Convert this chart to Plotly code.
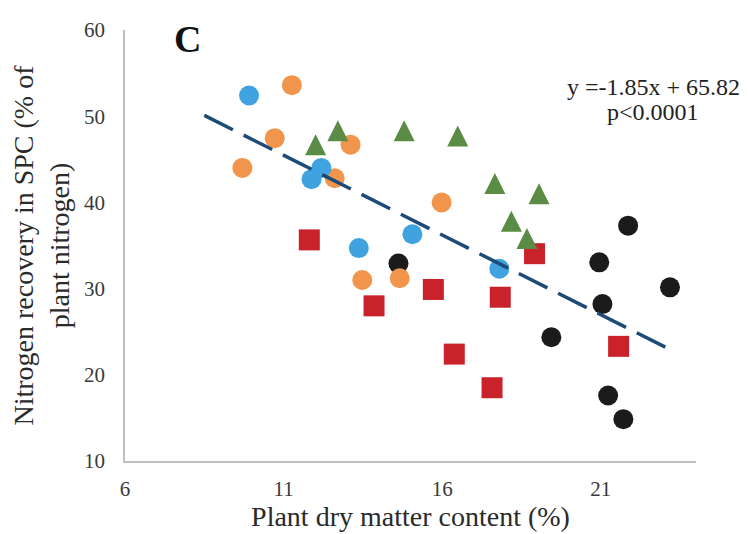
import plotly.graph_objects as go

# Data
blue_x = [9.91, 12.19, 11.88, 13.37, 15.06, 17.80]
blue_y = [52.4, 44.0, 42.7, 34.7, 36.3, 32.3]

orange_x = [11.26, 10.72, 9.70, 13.11, 12.61, 15.98, 13.48, 14.66]
orange_y = [53.6, 47.45, 44.0, 46.7, 42.8, 40.0, 31.0, 31.2]

green_x = [12.01, 12.71, 14.80, 16.49, 17.66, 19.05, 18.18, 18.67]
green_y = [46.7, 48.3, 48.3, 47.7, 42.2, 41.0, 37.8, 35.8]

red_x = [11.81, 13.85, 15.72, 17.83, 16.38, 17.57, 18.91, 21.56]
red_y = [35.65, 28.0, 29.9, 29.0, 22.4, 18.5, 34.05, 23.3]

black_x = [14.62, 19.44, 20.95, 21.86, 21.05, 23.18, 21.23, 21.71]
black_y = [32.9, 24.35, 33.05, 37.3, 28.2, 30.15, 17.6, 14.85]

fit_slope = -1.85
fit_intercept = 65.82
fit_x = [8.5, 23.1]
fit_y = [fit_slope * v + fit_intercept for v in fit_x]

x_ticks = [6, 11, 16, 21]
y_ticks = [10, 20, 30, 40, 50, 60]

FONT = "Liberation Serif"

fig = go.Figure()

def add(xs, ys, color, symbol, size, angle=0, standoff=0):
    fig.add_trace(go.Scatter(x=xs, y=ys, mode="markers",
                             marker=dict(color=color, symbol=symbol, size=size,
                                         angle=angle, standoff=standoff,
                                         line=dict(width=0)),
                             showlegend=False))

add(red_x, red_y, "#c9222b", "square", 21)
add(black_x, black_y, "#1b1b1b", "circle", 20)
add(orange_x, orange_y, "#f0954b", "circle", 20)
add(blue_x, blue_y, "#41a2e0", "circle", 20)
# upward triangle centred on the point (rotated arrow shape)
add(green_x, green_y, "#5a8c45", "arrow-down", 21, angle=180, standoff=10.5)

fig.add_trace(go.Scatter(x=fit_x, y=fit_y, mode="lines",
                         line=dict(color="#1d4a78", width=3.5, dash="32px,12px"),
                         showlegend=False))

fig.update_layout(
    width=741, height=526,
    margin=dict(l=117, r=53, t=10, b=69),
    paper_bgcolor="white", plot_bgcolor="white",
    font=dict(family=FONT, color="#3a3a3a"),
    xaxis=dict(range=[6, 24], tickvals=x_ticks, showgrid=False, zeroline=False,
               showline=True, linecolor="#c0c0c0", linewidth=1.5,
               ticks="", tickfont=dict(size=21, family=FONT, color="#3a3a3a"),
               ticklabelstandoff=8, ticklabeloverflow="allow",
               title=dict(text="Plant dry matter content (%)",
                          font=dict(size=28, family=FONT, color="#2a2a2a"),
                          standoff=3)),
    yaxis=dict(range=[10, 60], tickvals=y_ticks, showgrid=False, zeroline=False,
               showline=True, linecolor="#c0c0c0", linewidth=1.5,
               ticks="", tickfont=dict(size=21, family=FONT, color="#3a3a3a"),
               ticklabelstandoff=14, ticklabeloverflow="allow",
               title=dict(text="Nitrogen recovery in SPC (% of<br>plant nitrogen)",
                          font=dict(size=28, family=FONT, color="#2a2a2a"),
                          standoff=10)),
)

fig.add_annotation(x=0.109, y=0.978, xref="paper", yref="paper",
                   text="<b>C</b>", showarrow=False,
                   font=dict(size=38, family=FONT, color="#111111"),
                   xanchor="center", yanchor="middle")
fig.add_annotation(x=0.925, y=0.868, xref="paper", yref="paper",
                   text="y =-1.85x + 65.82", showarrow=False,
                   font=dict(size=24, family=FONT, color="#222222"),
                   xanchor="center", yanchor="middle")
fig.add_annotation(x=0.925, y=0.81, xref="paper", yref="paper",
                   text="p<0.0001", showarrow=False,
                   font=dict(size=24, family=FONT, color="#222222"),
                   xanchor="center", yanchor="middle")

fig.write_html("out.html")
